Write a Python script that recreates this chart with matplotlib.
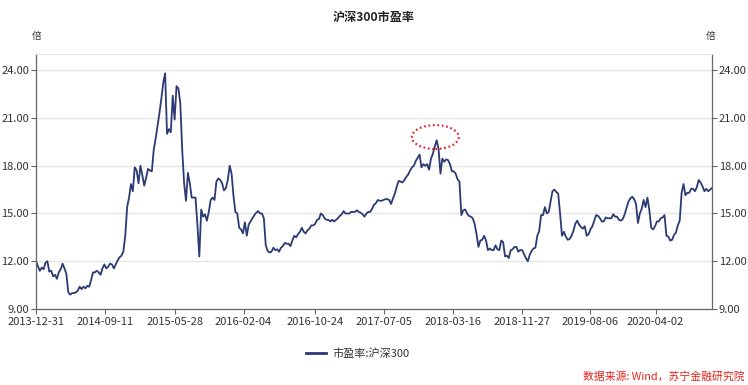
import matplotlib
matplotlib.use('Agg')
import matplotlib.pyplot as plt
from matplotlib.patches import Ellipse
from matplotlib.lines import Line2D
import pandas as pd

plt.rcParams['font.family'] = ['Noto Sans CJK SC', 'DejaVu Sans']

# weekly readings of the CSI 300 P/E ratio, starting 2013-12-31
start_date = '2013-12-31'
tick_dates = ['2013-12-31', '2014-09-11', '2015-05-28', '2016-02-04', '2016-10-24',
              '2017-07-05', '2018-03-16', '2018-11-27', '2019-08-06', '2020-04-02']
y_ticks = [9, 12, 15, 18, 21, 24]

pe_values = [
    12.0, 11.7, 11.4, 11.6, 11.5, 11.9, 12.0, 11.35, 11.4, 11.05,
    11.15, 10.9, 11.3, 11.5, 11.85, 11.55, 11.2, 10.05, 9.9, 10.0,
    10.0, 10.05, 10.15, 10.4, 10.25, 10.4, 10.3, 10.45, 10.4, 10.8,
    11.3, 11.3, 11.4, 11.3, 11.15, 11.55, 11.8, 11.55, 11.65, 11.85,
    11.8, 11.55, 11.8, 12.05, 12.25, 12.35, 12.6, 13.6, 15.4, 16.0,
    16.85, 16.4, 17.9, 17.7, 16.9, 18.0, 17.4, 16.75, 17.25, 17.8,
    17.7, 17.65, 19.0, 19.7, 20.5, 21.3, 22.2, 23.2, 23.8, 20.0,
    20.3, 20.1, 22.4, 20.9, 23.0, 22.85, 21.9, 19.0, 16.9, 15.8,
    17.55, 16.9, 16.0, 16.0, 16.0, 14.3, 12.3, 15.25, 14.8, 14.95,
    14.55, 15.1, 15.85, 16.0, 15.85, 17.0, 17.2, 17.1, 16.9, 16.45,
    16.6, 17.1, 18.0, 17.5, 16.1, 15.1, 15.0, 14.1, 14.0, 13.75,
    14.45, 13.6, 14.3, 14.5, 14.7, 14.9, 15.05, 15.15, 15.0, 15.0,
    14.7, 13.0, 12.65, 12.55, 12.6, 12.85, 12.7, 12.75, 12.6, 12.85,
    12.95, 13.15, 13.1, 13.1, 12.95, 13.3, 13.6, 13.5, 13.7, 13.85,
    14.1, 13.85, 13.75, 13.95, 14.05, 14.25, 14.25, 14.35, 14.6, 14.65,
    15.0, 14.9, 14.7, 14.6, 14.6, 14.5, 14.6, 14.5, 14.6, 14.7,
    14.85, 14.95, 15.15, 15.0, 15.0, 15.0, 15.1, 15.1, 15.1, 15.2,
    15.1, 15.05, 14.95, 14.8, 15.0, 15.1, 15.1, 15.3, 15.55, 15.65,
    15.85, 15.8, 15.8, 15.85, 15.9, 15.9, 15.85, 15.6, 15.95, 16.25,
    16.7, 17.05, 17.0, 16.95, 17.1, 17.3, 17.45, 17.7, 17.9, 18.0,
    18.3, 18.5, 18.7, 17.9, 18.1, 18.0, 18.1, 17.75, 18.45, 18.75,
    19.2, 19.6, 19.05, 17.5, 18.45, 18.25, 18.4, 18.35, 18.1, 17.65,
    17.65, 17.5, 17.15, 17.0, 14.9, 15.2, 15.25, 15.0, 14.85, 14.8,
    14.7, 14.35, 13.7, 12.9, 13.3, 13.35, 13.6, 13.3, 12.7, 12.8,
    12.7, 12.7, 13.0, 12.75, 12.7, 13.3, 13.2, 12.3, 12.35, 12.2,
    12.7, 12.75, 12.9, 12.9, 12.6, 12.7, 12.7, 12.45, 12.2, 12.0,
    12.4, 12.65, 12.8, 12.85, 13.6, 13.9, 14.9, 14.9, 15.4, 15.0,
    15.1, 15.75, 16.4, 16.5, 16.35, 16.25, 15.0, 13.6, 13.85, 13.55,
    13.35, 13.4, 13.6, 13.9, 14.35, 14.55, 14.3, 14.15, 14.05, 14.2,
    13.6, 13.7, 14.0, 14.2, 14.55, 14.9, 14.85, 14.7, 14.5, 14.5,
    14.75, 14.7, 14.7, 14.7, 14.95, 14.8, 14.8, 14.6, 14.55, 14.65,
    14.95, 15.35, 15.75, 15.95, 16.05, 15.9, 15.6, 14.4, 15.0, 15.3,
    15.85, 15.4, 16.0, 15.2, 14.1, 14.0, 14.2, 14.5, 14.5, 14.7,
    14.75, 14.9, 13.6, 13.55, 13.3, 13.35, 13.65, 13.8, 14.25, 14.55,
    16.3, 16.85, 16.15, 16.3, 16.3, 16.55, 16.55, 16.4, 16.65, 17.1,
    16.95, 16.7, 16.4, 16.55, 16.4, 16.5, 16.6,
]

dates = pd.date_range(start_date, periods=len(pe_values), freq='7D')
series = pd.Series(pe_values, index=dates)

line_color = '#2b3a73'
axis_color = '#666666'
text_color = '#333333'

fig = plt.figure(figsize=(7.48, 3.85), dpi=100)
ax = fig.add_axes([36 / 748, 76 / 385, 676 / 748, 254.7 / 385])

ax.plot(series.index, series.values, color=line_color, lw=1.3)

ax.set_xlim(dates[0], dates[-1])
ax.set_ylim(9, 25)
ax.set_yticks(y_ticks)
ax.set_yticklabels(['%.2f' % v for v in y_ticks])
ax.set_xticks(pd.to_datetime(tick_dates))
ax.set_xticklabels(tick_dates)

ax.grid(axis='y', color='#e6e6e6', lw=1)
ax.set_axisbelow(True)
ax.tick_params(axis='both', colors=axis_color, labelcolor=text_color, labelsize=8,
               length=3.5, width=0.8)
ax.tick_params(axis='y', pad=1.5)
ax.tick_params(axis='x', pad=2)

for side in ['left', 'right', 'bottom']:
    ax.spines[side].set_color(axis_color)
    ax.spines[side].set_linewidth(0.9)
ax.spines['top'].set_color('#e6e6e6')

ax2 = ax.twinx()
ax2.set_ylim(9, 25)
ax2.set_yticks(y_ticks)
ax2.set_yticklabels(['%.2f' % v for v in y_ticks])
ax2.tick_params(axis='y', colors=axis_color, labelcolor=text_color, labelsize=8,
                length=3.5, width=0.8, pad=1.5)
for side in ['left', 'right', 'bottom', 'top']:
    ax2.spines[side].set_visible(False)

# dotted circle around the 2018 peak
peak_part = series['2017-06-01':'2018-06-01']
peak_date = peak_part.idxmax()
ax.add_patch(Ellipse((peak_date - pd.Timedelta(days=5), peak_part.max() + 0.2),
                     width=pd.Timedelta(days=173).days, height=1.5,
                     fill=False, edgecolor='#e32636', lw=1.6,
                     linestyle=(0, (0.8, 1.2)), zorder=5))

fig.text(0.5, 1 - 17 / 385, '沪深300市盈率', ha='center', va='center',
         fontsize=8.7, fontweight='bold', color='#222222')
fig.text(37 / 748, 1 - 36 / 385, '倍', ha='center', va='center', fontsize=7, color=text_color)
fig.text(711 / 748, 1 - 36 / 385, '倍', ha='center', va='center', fontsize=7, color=text_color)

handle = Line2D([], [], color=line_color, lw=2)
fig.legend([handle], ['市盈率:沪深300'], loc='center', bbox_to_anchor=(358 / 748, 1 - 354 / 385),
           frameon=False, fontsize=8, handlelength=1.8, handletextpad=0.6,
           labelcolor=text_color)

fig.text(745 / 748, 1 - 376 / 385, '数据来源: Wind，苏宁金融研究院', ha='right', va='center',
         fontsize=7.8, fontstyle='italic', color='#e8211b')

fig.savefig('out.png', dpi=100)
